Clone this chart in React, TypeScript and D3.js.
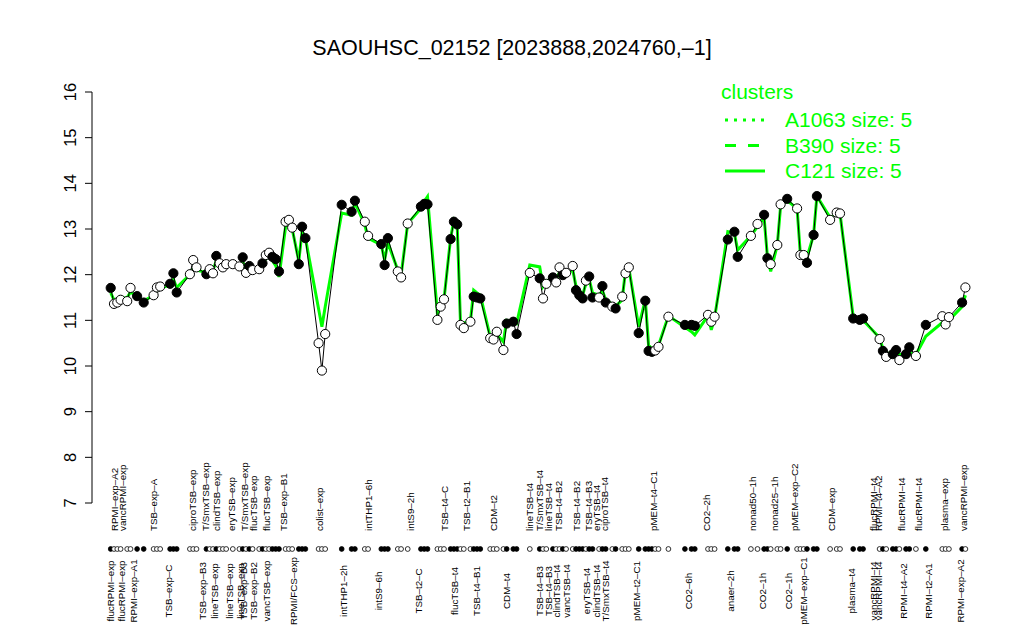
import React from "react";
import * as d3 from "d3";

const samplePos = [
  0, 1, 2, 3, 5, 6, 8, 10, 13, 14,
  15, 18, 19, 20, 24, 25, 26, 29, 30, 31,
  32, 33, 34, 35, 37, 39, 40, 41, 42, 43,
  45, 46, 47, 48, 49, 50, 51, 53, 54, 55,
  57, 58, 59, 63, 64, 65, 70, 73, 74, 77,
  78, 82, 83, 84, 87, 88, 90, 94, 95, 96,
  99, 100, 101, 103, 104, 105, 106, 107, 109, 110,
  111, 112, 115, 116, 117, 119, 120, 122, 123, 127,
  130, 131, 132, 134, 135, 136, 137, 138, 140, 141,
  142, 143, 144, 145, 146, 148, 149, 150, 152, 153,
  155, 156, 157, 160, 162, 163, 164, 165, 166, 169,
  174, 176, 177, 181, 182, 183, 187, 189, 190, 194,
  196, 198, 199, 200, 202, 203, 205, 208, 209, 210,
  211, 213, 214, 218, 220, 221, 225, 227, 228, 233,
  234, 235, 237, 238, 239, 241, 242, 244, 247, 252,
  253, 254, 258, 259,
];

const sampleValue = [
  11.71, 11.36, 11.39, 11.45, 11.42, 11.71, 11.53, 11.39, 11.55, 11.72,
  11.74, 11.8, 12.03, 11.61, 12.01, 12.32, 12.16, 12.01, 12.12, 12.03,
  12.41, 12.25, 12.16, 12.23, 12.23, 12.18, 12.38, 12.04, 12.19, 12.1,
  12.12, 12.25, 12.43, 12.48, 12.39, 12.34, 12.07, 13.16, 13.2, 13.03,
  12.23, 13.05, 12.8, 10.5, 9.9, 10.7, 13.53, 13.38, 13.62, 13.16,
  12.85, 12.67, 12.21, 12.8, 12.07, 11.94, 13.12, 13.49, 13.55, 13.54,
  11.01, 11.3, 11.46, 12.78, 13.16, 13.1, 10.9, 10.83, 10.97, 11.52,
  11.5, 11.48, 10.61, 10.58, 10.75, 10.35, 10.93, 10.97, 10.7, 12.04,
  11.92, 11.48, 11.8, 11.94, 11.83, 12.16, 11.99, 12.04, 12.19, 11.66,
  11.55, 11.48, 11.87, 11.96, 11.5, 11.5, 11.75, 11.39, 11.3, 11.26,
  11.52, 12.03, 12.16, 10.72, 11.43, 10.33, 10.31, 10.34, 10.42, 11.08,
  10.9, 10.9, 10.88, 11.12, 10.97, 11.08, 12.77, 12.94, 12.39, 12.85,
  13.11, 13.31, 12.36, 12.23, 12.65, 13.54, 13.66, 13.45, 12.43, 12.43,
  12.26, 12.87, 13.72, 13.2, 13.36, 13.34, 11.04, 11.01, 11.04, 10.59,
  10.33, 10.2, 10.26, 10.35, 10.13, 10.26, 10.41, 10.22, 10.9, 11.09,
  10.91, 11.07, 11.39, 11.72,
];

const sampleFilled = [
  1, 0, 0, 0, 0, 0, 1, 1, 0, 0,
  0, 1, 1, 1, 0, 0, 0, 1, 0, 0,
  1, 0, 0, 0, 0, 0, 1, 0, 1, 0,
  0, 1, 0, 0, 1, 1, 1, 0, 0, 0,
  1, 1, 1, 0, 0, 0, 1, 1, 1, 0,
  0, 1, 1, 1, 0, 0, 0, 1, 1, 1,
  0, 0, 0, 1, 1, 1, 0, 0, 0, 1,
  1, 1, 0, 0, 0, 0, 1, 1, 1, 0,
  1, 0, 0, 1, 0, 0, 1, 0, 0, 1,
  1, 1, 0, 1, 1, 0, 1, 1, 0, 1,
  0, 0, 0, 1, 1, 1, 1, 0, 0, 0,
  1, 1, 1, 0, 0, 0, 1, 1, 1, 0,
  0, 1, 1, 0, 0, 0, 1, 0, 0, 0,
  1, 1, 1, 0, 0, 0, 1, 1, 1, 0,
  1, 0, 1, 1, 0, 1, 1, 0, 1, 0,
  0, 0, 1, 0,
];

const clusterMean = [
  11.6, 11.45, 11.45, 11.48, 11.5, 11.62, 11.52, 11.42, 11.55, 11.65,
  11.7, 11.78, 11.9, 11.72, 12.0, 12.15, 12.1, 12.05, 12.1, 12.1,
  12.3, 12.22, 12.2, 12.22, 12.22, 12.2, 12.28, 12.12, 12.18, 12.12,
  12.15, 12.22, 12.35, 12.4, 12.3, 12.2, 11.95, 13.05, 13.1, 13.0,
  12.3, 12.95, 12.8, 11.25, 10.86, 11.3, 13.35, 13.3, 13.58, 13.09,
  12.8, 12.65, 12.32, 12.7, 12.1, 11.99, 13.12, 13.45, 13.6, 13.71,
  11.15, 11.3, 11.46, 12.8, 13.2, 13.1, 10.93, 10.95, 10.97, 11.66,
  11.6, 11.55, 10.64, 10.68, 10.7, 10.53, 11.0, 10.97, 10.93, 12.21,
  12.17, 11.74, 11.85, 11.95, 11.9, 12.05, 12.0, 12.05, 12.1, 11.75,
  11.65, 11.55, 11.8, 11.9, 11.6, 11.55, 11.65, 11.45, 11.35, 11.3,
  11.45, 12.1, 12.15, 10.86, 11.45, 10.45, 10.38, 10.38, 10.45, 11.1,
  10.85, 10.75, 10.68, 11.1, 10.79, 11.05, 12.94, 12.9, 12.54, 12.85,
  13.05, 13.25, 12.4, 12.07, 12.65, 13.5, 13.62, 13.45, 12.43, 12.43,
  12.38, 12.87, 13.72, 13.25, 13.33, 13.34, 11.08, 11.02, 11.0, 10.62,
  10.38, 10.28, 10.28, 10.3, 10.25, 10.25, 10.3, 10.25, 10.65, 10.95,
  10.95, 11.0, 11.3, 11.55,
];

const topLabels = [
  "RPMI-exp-A2", "vancRPMI-exp", "TSB-exp-A", "ciproTSB-exp", "T/SmxTSB-exp",
  "clindTSB-exp", "eryTSB-exp", "T/SmxTSB-exp", "flucTSB-exp", "flucTSB-exp",
  "TSB-exp-B1", "colist-exp", "intTHP1-6h", "intS9-2h", "TSB-t4-C",
  "TSB-t2-B1", "CDM-t2", "lineTSB-t4", "T/SmxTSB-t4", "lineTSB-t4",
  "TSB-t4-B2", "TSB-t4-B2", "TSB-t4-B3", "eryTSB-t4", "ciproTSB-t4",
  "pMEM-t4-C1", "CO2-2h", "nonad50-1h", "nonad25-1h", "pMEM-exp-C2",
  "CDM-exp", "flucRPMI-t4", "RPMI-t4-A2", "flucRPMI-t4", "flucRPMI-t4",
  "plasma-exp", "vancRPMI-exp",
];
const topLabelPos = [
  1.3, 3.6, 12.9, 24.8, 28.6,
  32.1, 36.7, 40.4, 43.2, 47.3,
  52.3, 63.4, 78.1, 90.7, 101.3,
  107.9, 115.9, 127, 129.9, 132.6,
  135.6, 141.2, 144.7, 147.1, 149.5,
  164.4, 180.6, 194.5, 201, 207.1,
  218.5, 231.3, 232.6, 239.7, 244.7,
  252.8, 258.4,
];

const bottomLabels = [
  "flucRPMI-exp", "flucRPMI-exp", "RPMI-exp-A1", "TSB-exp-C", "TSB-exp-B3",
  "lineTSB-exp", "lineTSB-exp", "lineTSB-exp", "TSB-exp-B3", "TSB-exp-B2",
  "vancTSB-exp", "RPMI/FCS-exp", "intTHP1-2h", "intS9-6h", "TSB-t2-C",
  "flucTSB-t4", "TSB-t4-B1", "CDM-t4", "TSB-t4-B3", "TSB-t4-B3",
  "clindTSB-t4", "vancTSB-t4", "eryTSB-t4", "clindTSB-t4", "T/SmxTSB-t4",
  "pMEM-t2-C1", "CO2-6h", "anaer-2h", "CO2-1h", "CO2-1h",
  "pMEM-exp-C1", "plasma-t4", "vancRPMI-t4", "vancRPMI-t4", "RPMI-t4-A2",
  "RPMI-t2-A1", "RPMI-exp-A2",
];
const bottomLabelPos = [
  -0.2, 3.3, 6.8, 17.5, 27.9,
  31.6, 35.9, 39.2, 40.2, 43.2,
  47.3, 55.3, 70.5, 81.3, 93.2,
  104.3, 110.9, 120, 129.9, 132.6,
  135.2, 138.2, 144.2, 147.1, 149.8,
  159.4, 175, 187.7, 197.6, 205.3,
  209.9, 224.5, 231.3, 232.6, 240.2,
  247.8, 257.4,
];

const yTicks = [7, 8, 9, 10, 11, 12, 13, 14, 15, 16];
const legendTitle = "clusters";
const legendItems = ["A1063 size: 5", "B390 size: 5", "C121 size: 5"];
const legendDash = ["3 6", "11 12", "none"];
const title = "SAOUHSC_02152 [2023888,2024760,\u20131]";

const GREEN = "#00ff00";
const FONT = "'Liberation Sans', Arial, Helvetica, sans-serif";
const dash = (s: string) => s.replace(/-/g, "\u2013");

export default function App() {
  const x = d3.scaleLinear().domain([0, 259]).range([110.7, 965.4]);
  const y = d3.scaleLinear().domain([7, 16]).range([503, 92]);

  const idx = d3.range(samplePos.length);
  const blackLine = d3
    .line<number>()
    .x((i) => x(samplePos[i]))
    .y((i) => y(sampleValue[i]));
  const greenLine = d3
    .line<number>()
    .x((i) => x(samplePos[i]))
    .y((i) => y(clusterMean[i]));

  const axisX = 92;
  const dotRowY = 549;
  const labelSize = 9.8;

  return (
    <svg
      width={1024}
      height={640}
      style={{ position: "absolute", left: 0, top: 0, background: "#fff" }}
      fontFamily={FONT}
    >
      <rect width={1024} height={640} fill="#fff" />
      <text x={512} y={55} textAnchor="middle" fontSize={21.5} fill="#000">
        {title}
      </text>

      {/* y axis */}
      <line x1={axisX} x2={axisX} y1={y(7)} y2={y(16)} stroke="#000" strokeWidth={1} />
      {yTicks.map((t) => (
        <g key={t}>
          <line x1={axisX - 7} x2={axisX} y1={y(t)} y2={y(t)} stroke="#000" strokeWidth={1} />
          <text
            transform={`translate(${axisX - 16},${y(t)}) rotate(-90)`}
            textAnchor="middle"
            fontSize={16.5}
            fill="#000"
          >
            {t}
          </text>
        </g>
      ))}

      {/* cluster mean line */}
      <path d={greenLine(idx) || ""} fill="none" stroke={GREEN} strokeWidth={3} />
      {/* sample line */}
      <path d={blackLine(idx) || ""} fill="none" stroke="#000" strokeWidth={1} />
      {idx.map((i) => (
        <circle
          key={`p${i}`}
          cx={x(samplePos[i])}
          cy={y(sampleValue[i])}
          r={4.6}
          fill={sampleFilled[i] ? "#000" : "#fff"}
          stroke="#000"
          strokeWidth={1}
        />
      ))}

      {/* dot row */}
      {idx.map((i) => (
        <circle
          key={`d${i}`}
          cx={x(samplePos[i])}
          cy={dotRowY}
          r={2.4}
          fill={sampleFilled[i] ? "#000" : "#fff"}
          stroke="#000"
          strokeWidth={0.8}
        />
      ))}

      {/* labels */}
      {topLabels.map((l, i) => (
        <text
          key={`t${i}`}
          transform={`translate(${x(topLabelPos[i]) + 3.5},531) rotate(-90)`}
          fontSize={labelSize}
          fill="#000"
        >
          {dash(l)}
        </text>
      ))}
      {bottomLabels.map((l, i) => (
        <text
          key={`b${i}`}
          transform={`translate(${x(bottomLabelPos[i]) + 3.5},591) rotate(-90)`}
          fontSize={labelSize}
          textAnchor="middle"
          fill="#000"
        >
          {dash(l)}
        </text>
      ))}

      {/* legend */}
      <text x={721} y={99} fontSize={21} fill={GREEN}>
        {legendTitle}
      </text>
      {legendItems.map((l, i) => (
        <g key={l}>
          <line
            x1={725}
            x2={765}
            y1={120 + i * 25.5}
            y2={120 + i * 25.5}
            stroke={GREEN}
            strokeWidth={3}
            strokeDasharray={legendDash[i] === "none" ? undefined : legendDash[i]}
          />
          <text x={785} y={127 + i * 25.5} fontSize={21} fill={GREEN}>
            {l}
          </text>
        </g>
      ))}
    </svg>
  );
}
